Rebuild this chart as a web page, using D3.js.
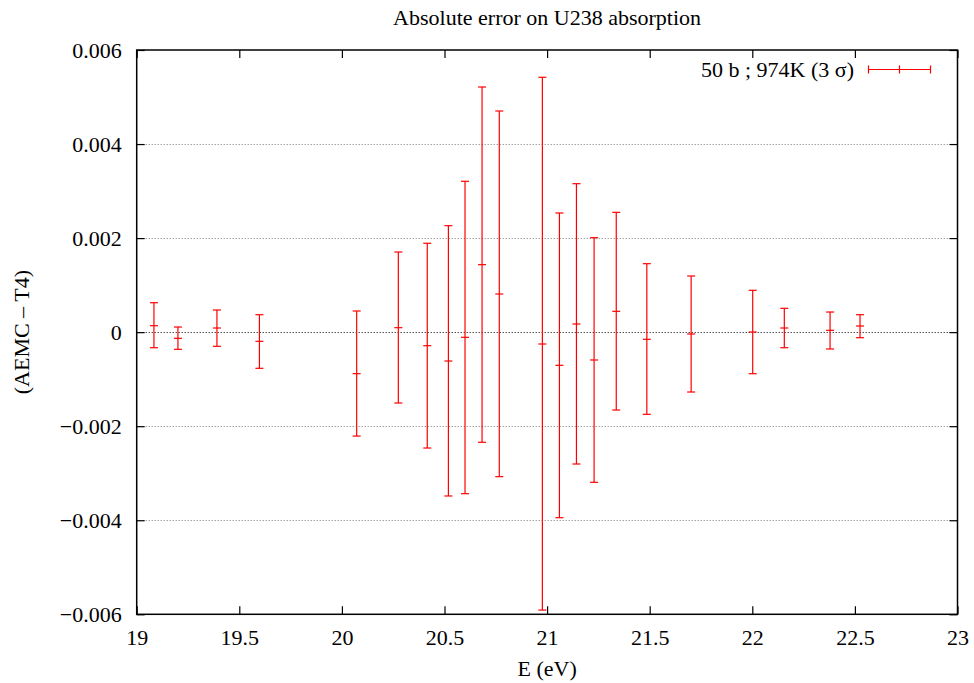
<!DOCTYPE html>
<html>
<head>
<meta charset="utf-8">
<script src="https://cdn.jsdelivr.net/npm/d3@7"></script>
<style>
  body { margin: 0; background: #fff; }
  svg text { font-family: "Liberation Serif", "Times New Roman", Times, serif; fill: #000; }
</style>
</head>
<body>
<div id="chart"></div>
<script>
const width = 974,
      height = 683;

// energies (eV), central value and 3-sigma bounds
const energy = [19.084, 19.201, 19.391, 19.598, 20.072, 20.275, 20.416, 20.519, 20.600, 20.683, 20.767,
                20.977, 21.060, 21.143, 21.229, 21.337, 21.486, 21.702, 22.002, 22.156, 22.379, 22.525];
const center = [0.000137, -0.000131, 0.000088, -0.000195, -0.000883, 0.000095, -0.000288, -0.000614, -0.00011, 0.001435, 0.000811,
                -0.000252, -0.000705, 0.000173, -0.000592, 0.000443, -0.000152, -0.000039, 0.000003, 0.000088, 0.000039, 0.000131];
const upper  = [0.000626, 0.000109, 0.000471, 0.000371, 0.00045, 0.001704, 0.00189, 0.002264, 0.003208, 0.005213, 0.004703,
                0.00542, 0.002534, 0.003157, 0.002009, 0.002548, 0.001456, 0.001194, 0.00089, 0.000507, 0.000428, 0.000371];
const lower  = [-0.000331, -0.000365, -0.000301, -0.000769, -0.00221, -0.001507, -0.002464, -0.003484, -0.003435, -0.002342, -0.003073,
                -0.00591, -0.003946, -0.002804, -0.003193, -0.001656, -0.001747, -0.001273, -0.000884, -0.000331, -0.000358, -0.000118];

const xTicks = [19, 19.5, 20, 20.5, 21, 21.5, 22, 22.5, 23];
const yTicks = [-0.006, -0.004, -0.002, 0, 0.002, 0.004, 0.006];

const title = "Absolute error on U238 absorption";
const xLabel = "E (eV)";
const yLabel = "(AEMC \u2013 T4)";
const legendLabel = "50 b ; 974K (3 \u03c3)";

const data = energy.map((e, i) => ({ e: e, v: center[i], lo: lower[i], hi: upper[i] }));

const mLeft = 136.7, mRight = 957.5, mTop = 50, mBottom = 614.3;
const fontSize = "22px";
const serif = "'Liberation Serif', 'Times New Roman', Times, serif";

const x = d3.scaleLinear().domain([19, 23]).range([mLeft, mRight]);
const y = d3.scaleLinear().domain([-0.006, 0.006]).range([mBottom, mTop]);

const fmt = v => v === 0 ? "0" : (v < 0 ? "\u2212" : "") + d3.format(".3f")(Math.abs(v));

const svg = d3.select("#chart")
  .append("svg")
    .attr("width", width)
    .attr("height", height)
    .attr("font-family", serif);

// grid
svg.append("g")
  .selectAll("line")
  .data(yTicks.filter(t => t > -0.006 && t < 0.006))
  .enter()
  .append("line")
    .attr("x1", mLeft)
    .attr("x2", mRight)
    .attr("y1", d => Math.round(y(d)) + 0.5)
    .attr("y2", d => Math.round(y(d)) + 0.5)
    .attr("stroke", d => d === 0 ? "#000" : "#777")
    .attr("stroke-width", 1)
    .attr("stroke-dasharray", "1,2");

// axes with inward ticks
function clean(g) {
  g.select(".domain").remove();
  g.attr("font-family", serif).attr("font-size", fontSize);
}
svg.append("g")
  .attr("transform", `translate(0,${mBottom})`)
  .call(d3.axisBottom(x).tickValues(xTicks).tickSizeInner(-8).tickSizeOuter(0).tickPadding(15).tickFormat(d => d))
  .call(clean);
svg.append("g")
  .attr("transform", `translate(0,${mTop})`)
  .call(d3.axisTop(x).tickValues(xTicks).tickSizeInner(-8).tickSizeOuter(0).tickFormat(""))
  .call(clean);
svg.append("g")
  .attr("transform", `translate(${mLeft},0)`)
  .call(d3.axisLeft(y).tickValues(yTicks).tickSizeInner(-8).tickSizeOuter(0).tickPadding(15).tickFormat(fmt))
  .call(clean);
svg.append("g")
  .attr("transform", `translate(${mRight},0)`)
  .call(d3.axisRight(y).tickValues(yTicks).tickSizeInner(-8).tickSizeOuter(0).tickFormat(""))
  .call(clean);

svg.selectAll(".tick line").attr("stroke", "#000").attr("stroke-width", 1.2);
svg.selectAll(".tick text").attr("fill", "#000");

// frame
svg.append("rect")
  .attr("x", mLeft)
  .attr("y", mTop)
  .attr("width", mRight - mLeft)
  .attr("height", mBottom - mTop)
  .attr("fill", "none")
  .attr("stroke", "#000")
  .attr("stroke-width", 1.5);

// error bars
const cap = 4;
const bars = svg.append("g")
  .attr("stroke", "#ff0000")
  .attr("stroke-width", 1.2)
  .selectAll("g")
  .data(data)
  .enter()
  .append("g");

bars.append("line")
  .attr("x1", d => x(d.e)).attr("x2", d => x(d.e))
  .attr("y1", d => y(d.hi)).attr("y2", d => y(d.lo));
bars.append("line")
  .attr("x1", d => x(d.e) - cap).attr("x2", d => x(d.e) + cap)
  .attr("y1", d => y(d.hi)).attr("y2", d => y(d.hi));
bars.append("line")
  .attr("x1", d => x(d.e) - cap).attr("x2", d => x(d.e) + cap)
  .attr("y1", d => y(d.lo)).attr("y2", d => y(d.lo));
bars.append("line")
  .attr("x1", d => x(d.e) - cap).attr("x2", d => x(d.e) + cap)
  .attr("y1", d => y(d.v)).attr("y2", d => y(d.v));

// legend
const lg = svg.append("g");
lg.append("text")
  .attr("x", 854)
  .attr("y", 77)
  .attr("text-anchor", "end")
  .attr("font-size", fontSize)
  .text(legendLabel);
const ly = 69.5, lx1 = 868.5, lx2 = 930.5;
const lgl = lg.append("g").attr("stroke", "#ff0000").attr("stroke-width", 1.2);
lgl.append("line").attr("x1", lx1).attr("x2", lx2).attr("y1", ly).attr("y2", ly);
lgl.append("line").attr("x1", lx1).attr("x2", lx1).attr("y1", ly - 4).attr("y2", ly + 4);
lgl.append("line").attr("x1", lx2).attr("x2", lx2).attr("y1", ly - 4).attr("y2", ly + 4);
lgl.append("line").attr("x1", (lx1 + lx2) / 2).attr("x2", (lx1 + lx2) / 2).attr("y1", ly - 4).attr("y2", ly + 4);

// titles
svg.append("text")
  .attr("x", (mLeft + mRight) / 2)
  .attr("y", 25)
  .attr("text-anchor", "middle")
  .attr("font-size", fontSize)
  .text(title);

svg.append("text")
  .attr("x", (mLeft + mRight) / 2)
  .attr("y", 676)
  .attr("text-anchor", "middle")
  .attr("font-size", fontSize)
  .text(xLabel);

svg.append("text")
  .attr("transform", `translate(29,${(mTop + mBottom) / 2}) rotate(-90)`)
  .attr("text-anchor", "middle")
  .attr("font-size", fontSize)
  .text(yLabel);
</script>
</body>
</html>
